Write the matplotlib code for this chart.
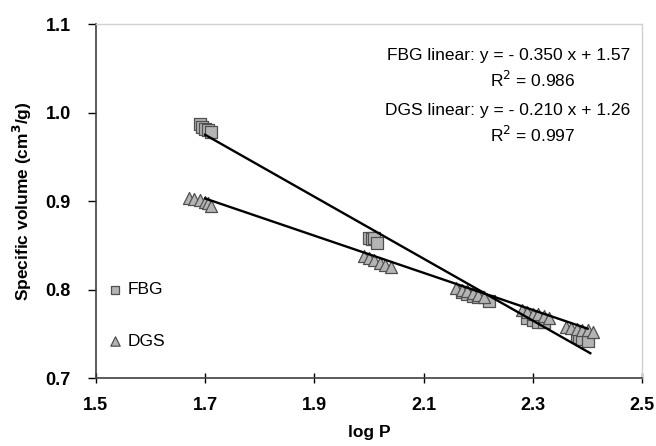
import numpy as np
import matplotlib
matplotlib.use("Agg")
import matplotlib.pyplot as plt

plt.rcParams['font.family'] = ['Liberation Sans', 'DejaVu Sans']

# FBG data (log P, specific volume)
fbg_x = [1.69, 1.695, 1.70, 1.705, 1.71,
         2.00, 2.005, 2.01, 2.015,
         2.17, 2.18, 2.19, 2.20, 2.22,
         2.29, 2.30, 2.31, 2.32,
         2.38, 2.385, 2.39, 2.40]
fbg_y = [0.987, 0.984, 0.982, 0.980, 0.978,
         0.858, 0.857, 0.858, 0.853,
         0.797, 0.795, 0.793, 0.792, 0.787,
         0.768, 0.766, 0.764, 0.763,
         0.748, 0.746, 0.744, 0.742]

# DGS data
dgs_x = [1.67, 1.68, 1.69, 1.70, 1.705, 1.71,
         1.99, 2.00, 2.01, 2.02, 2.03, 2.04,
         2.16, 2.17, 2.18, 2.19, 2.20, 2.21,
         2.28, 2.29, 2.30, 2.31, 2.32, 2.33,
         2.36, 2.37, 2.38, 2.39, 2.40, 2.41]
dgs_y = [0.903, 0.902, 0.901, 0.899, 0.898, 0.895,
         0.838, 0.836, 0.833, 0.830, 0.828, 0.826,
         0.802, 0.800, 0.798, 0.796, 0.794, 0.792,
         0.777, 0.775, 0.773, 0.772, 0.770, 0.768,
         0.758, 0.757, 0.756, 0.755, 0.754, 0.752]

# linear fits (slope, intercept) as printed on the chart, and their x span
fbg_fit = (-0.350, 1.57)
dgs_fit = (-0.210, 1.26)
fbg_span = [1.70, 2.405]
dgs_span = [1.70, 2.40]

fig = plt.figure(figsize=(6.56, 4.46), dpi=100)
ax = fig.add_axes([0.146, 0.152, 0.833, 0.794])

face = '#b4b4b4'
edge = '#505050'

# trend lines
for span, (m, b) in [(fbg_span, fbg_fit), (dgs_span, dgs_fit)]:
    xl = np.array(span)
    ax.plot(xl, m * xl + b, color='black', lw=1.7, zorder=3)

ax.scatter(fbg_x, fbg_y, marker='s', s=65, facecolor=face, edgecolor=edge, lw=0.9, zorder=2)
ax.scatter(dgs_x, dgs_y, marker='^', s=75, facecolor=face, edgecolor=edge, lw=0.9, zorder=2)

# in-plot legend
ax.scatter([1.535], [0.800], marker='s', s=40, facecolor=face, edgecolor=edge, lw=0.9)
ax.text(1.558, 0.800, 'FBG', fontsize=12.5, va='center')
ax.scatter([1.535], [0.742], marker='^', s=45, facecolor=face, edgecolor=edge, lw=0.9)
ax.text(1.558, 0.742, 'DGS', fontsize=12.5, va='center')

# equations
ax.text(2.478, 1.065, 'FBG linear: y = - 0.350 x + 1.57', fontsize=12.5, ha='right', va='center')
ax.text(2.30, 1.037, 'R$^2$ = 0.986', fontsize=12.5, ha='center', va='center')
ax.text(2.478, 1.002, 'DGS linear: y = - 0.210 x + 1.26', fontsize=12.5, ha='right', va='center')
ax.text(2.30, 0.975, 'R$^2$ = 0.997', fontsize=12.5, ha='center', va='center')

ax.set_xlim(1.5, 2.5)
ax.set_ylim(0.7, 1.1)
ax.set_xticks([1.5, 1.7, 1.9, 2.1, 2.3, 2.5])
ax.set_yticks([0.7, 0.8, 0.9, 1.0, 1.1])
ax.set_xticklabels(['1.5', '1.7', '1.9', '2.1', '2.3', '2.5'], fontweight='bold')
ax.set_yticklabels(['0.7', '0.8', '0.9', '1.0', '1.1'], fontweight='bold')
ax.tick_params(axis='x', direction='inout', length=7, width=1, labelsize=13, pad=10)
ax.tick_params(axis='y', direction='out', length=6, width=1, labelsize=13, pad=12)

for s in ['left', 'bottom']:
    ax.spines[s].set_color('#404040')
    ax.spines[s].set_linewidth(1.2)
for s in ['top', 'right']:
    ax.spines[s].set_color('#d0d0d0')
    ax.spines[s].set_linewidth(1)

ax.set_xlabel('log P', fontsize=12.5, fontweight='bold', labelpad=8)
ax.set_ylabel('Specific volume (cm$^\\mathbf{3}$/g)', fontsize=12.5, fontweight='bold', labelpad=8)

fig.savefig('out.png', dpi=100)
